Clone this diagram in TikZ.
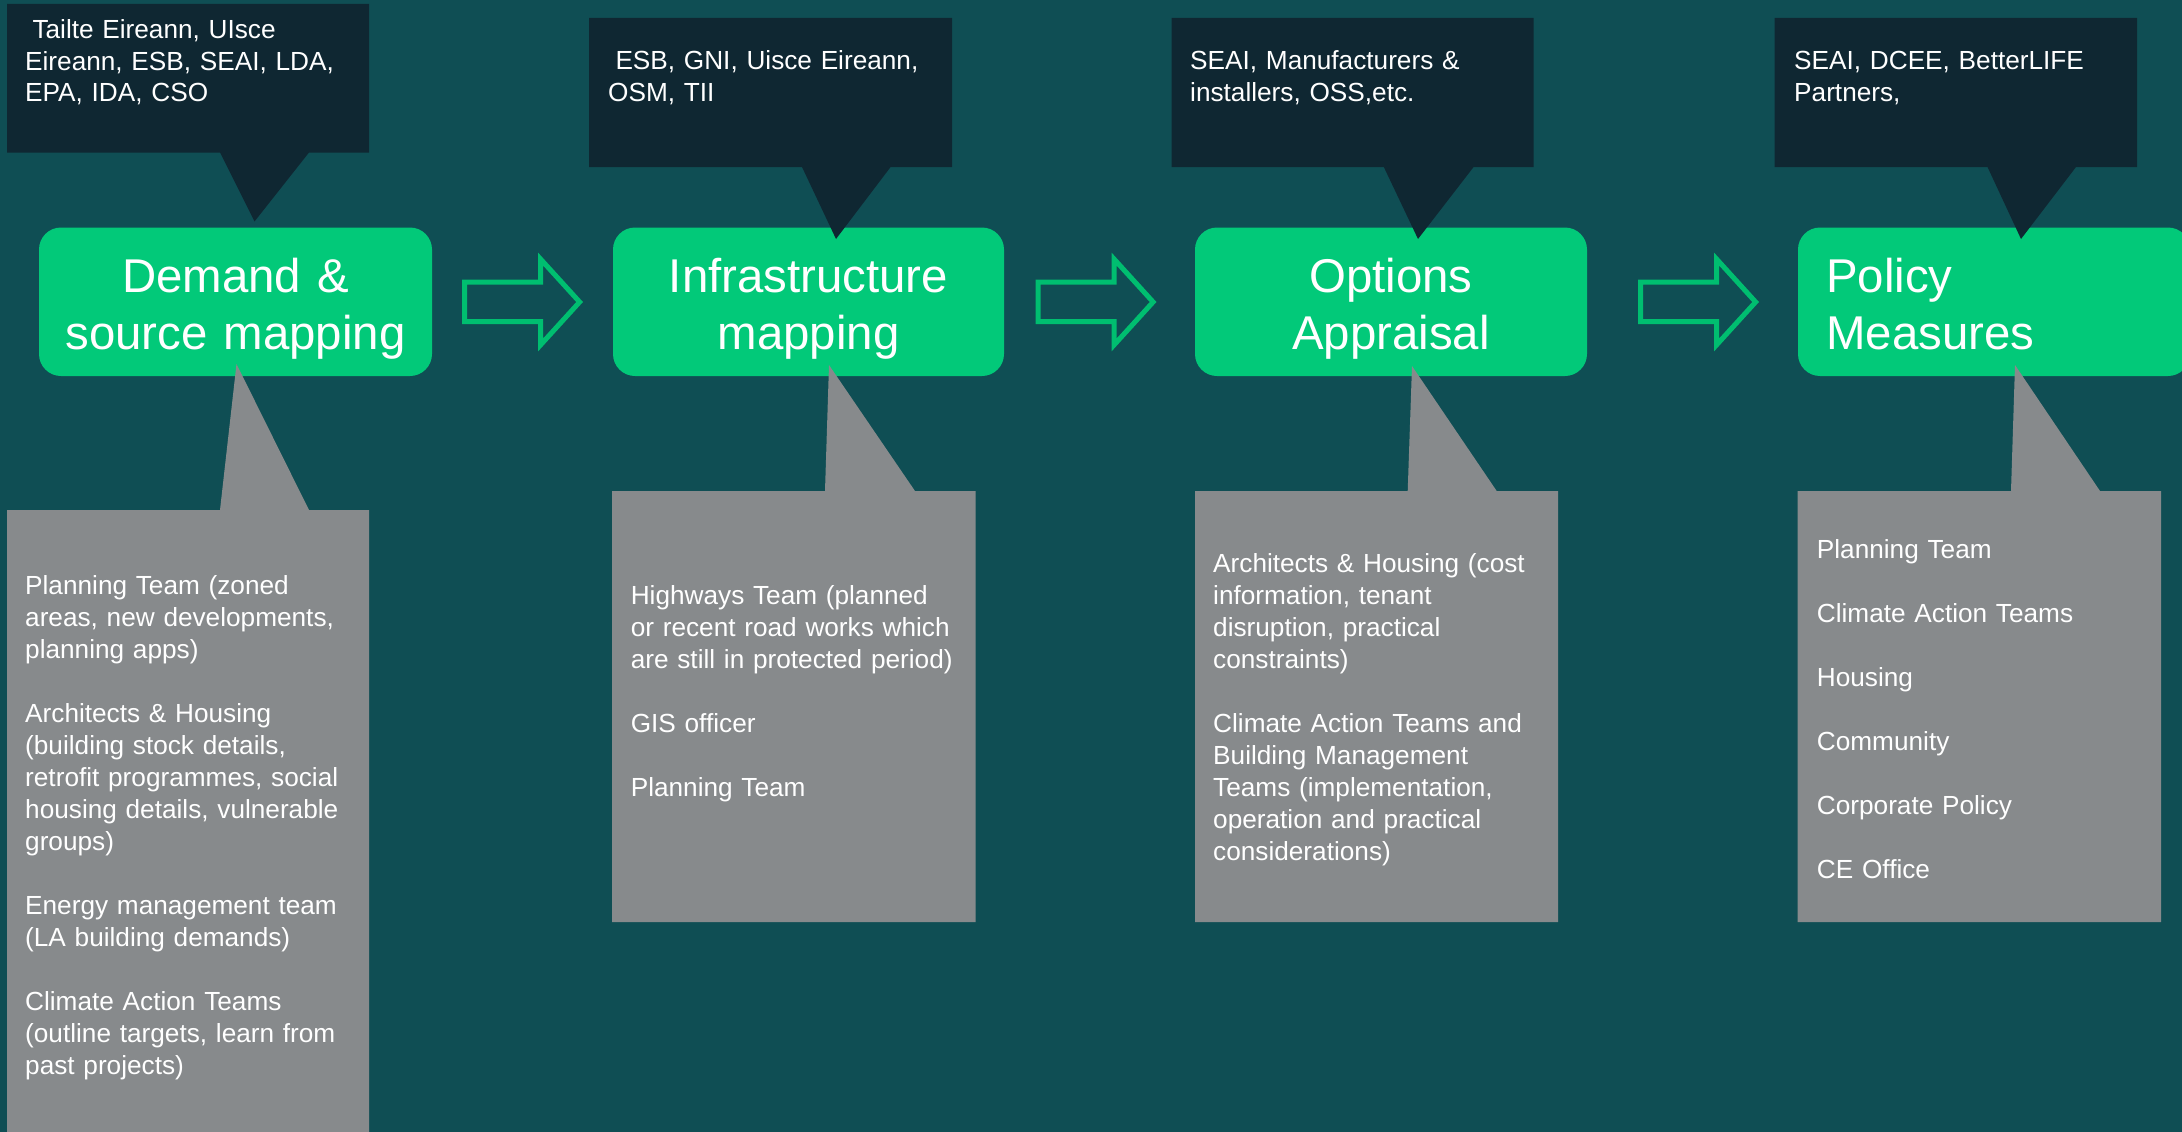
\documentclass[tikz,border=0pt]{standalone}
\usepackage{fontspec}
\setmainfont{Liberation Sans}
\definecolor{bgteal}{RGB}{15,78,84}
\definecolor{srcdark}{RGB}{15,39,50}
\definecolor{teamgray}{RGB}{135,138,140}
\definecolor{stagegreen}{RGB}{2,201,121}
\definecolor{arrowgreen}{RGB}{0,190,112}
\begin{document}
\begin{tikzpicture}[x=1pt,y=-1pt,
  stage/.style={fill=stagegreen, rounded corners=22pt, inner sep=0pt,
    minimum height=148.5pt},
  stagetext/.style={text=white, inner sep=0pt,
    font=\fontsize{47.4}{56.5}\selectfont},
  srcbox/.style={fill=srcdark},
  teambox/.style={fill=teamgray},
  calltext/.style={text=white, anchor=base west, align=left,
    text width=350pt, inner sep=0pt, font=\fontsize{26.2}{32}\selectfont},
  srctext/.style={calltext, font=\fontsize{26.2}{31.5}\selectfont},
  flowline/.style={draw=arrowgreen, line width=5pt, miter limit=10},
  flowarrow/.pic={
    \draw[flowline] (2.5,282) -- (78.5,282) -- (78.5,259) -- (117.6,302)
      -- (78.5,345) -- (78.5,321.5) -- (2.5,321.5) -- cycle;
  }
]
\useasboundingbox (0,0) rectangle (2182,1132);
\clip (0,0) rectangle (2182,1132);
\fill[bgteal] (0,0) rectangle (2182,1132);

% stage boxes
\node[stage, minimum width=393pt] (s1) at (235.5,301.75) {};
\node[stage, minimum width=391pt] (s2) at (808.5,301.75) {};
\node[stage, minimum width=392pt] (s3) at (1391,301.75) {};
\node[stage, minimum width=392pt] (s4) at (1994,301.75) {};

% source callouts (above)
\fill[srcbox] (7,4) -- (369,4) -- (369,152.5) -- (309,152.5) -- (254.5,221.5)
  -- (220,152.5) -- (7,152.5) -- cycle;
\fill[srcbox] (589,18) -- (952,18) -- (952,167) -- (890.6,167) -- (836,239)
  -- (802,167) -- (589,167) -- cycle;
\fill[srcbox] (1171.6,18) -- (1533.6,18) -- (1533.6,167) -- (1473.6,167)
  -- (1418,239) -- (1383.8,167) -- (1171.6,167) -- cycle;
\fill[srcbox] (1774.5,18) -- (2137,18) -- (2137,167) -- (2076,167)
  -- (2021,239) -- (1987.5,167) -- (1774.5,167) -- cycle;

% team callouts (below)
\fill[teambox] (7,510) -- (220,510) -- (236.5,364) -- (309,510) -- (369,510)
  -- (369,1140) -- (7,1140) -- cycle;
\fill[teambox] (612,491) -- (825,491) -- (829,365) -- (915,491) -- (975.5,491)
  -- (975.5,922) -- (612,922) -- cycle;
\fill[teambox] (1195,491) -- (1407.7,491) -- (1412,366) -- (1496.7,491)
  -- (1558,491) -- (1558,922) -- (1195,922) -- cycle;
\fill[teambox] (1797.7,491) -- (2011,491) -- (2015,365) -- (2100,491)
  -- (2161,491) -- (2161,922) -- (1797.7,922) -- cycle;

% flow arrows between stages
\pic at (462,0) {flowarrow};
\pic at (1035.5,0) {flowarrow};
\pic at (1638,0) {flowarrow};

% stage titles
\node[stagetext, anchor=base, align=center, text width=393pt] (t1)
  at (235.5,292.5) {Demand \&\\source mapping};
\node[stagetext, anchor=base, align=center, text width=391pt] (t2)
  at (808.5,292.5) {Infrastructure\\mapping};
\node[stagetext, anchor=base, align=center, text width=392pt] (t3)
  at (1391,292.5) {Options\\Appraisal};
\node[stagetext, anchor=base west, align=left, text width=340pt] (t4)
  at (1826,292.5) {Policy\\Measures};

% source texts
\node[srctext] (c1) at (25,39)
  {\hspace*{7.3pt}Tailte Eireann, UIsce\\Eireann, ESB, SEAI, LDA,\\EPA, IDA, CSO};
\node[srctext] (c2) at (608,70)
  {\hspace*{7.3pt}ESB, GNI, Uisce Eireann,\\OSM, TII};
\node[srctext] (c3) at (1190,70)
  {SEAI, Manufacturers \&\\installers, OSS,etc.};
\node[srctext] (c4) at (1794,70)
  {SEAI, DCEE, BetterLIFE\\Partners,};

% team texts
\node[calltext] (g1) at (25,594)
  {Planning Team (zoned\\areas, new developments,\\planning apps)\\[32pt]%
   Architects \& Housing\\(building stock details,\\retrofit programmes, social\\housing details, vulnerable\\groups)\\[32pt]%
   Energy management team\\(LA building demands)\\[32pt]%
   Climate Action Teams\\(outline targets, learn from\\past projects)};
\node[calltext] (g2) at (630.6,604)
  {Highways Team (planned\\or recent road works which\\are still in protected period)\\[32pt]%
   GIS officer\\[32pt]%
   Planning Team};
\node[calltext] (g3) at (1213,572.7)
  {Architects \& Housing (cost\\information, tenant\\disruption, practical\\constraints)\\[32pt]%
   Climate Action Teams and\\Building Management\\Teams (implementation,\\operation and practical\\considerations)};
\node[calltext] (g4) at (1816.7,558)
  {Planning Team\\[32pt]Climate Action Teams\\[32pt]Housing\\[32pt]Community\\[32pt]Corporate Policy\\[32pt]CE Office};
\end{tikzpicture}
\end{document}
